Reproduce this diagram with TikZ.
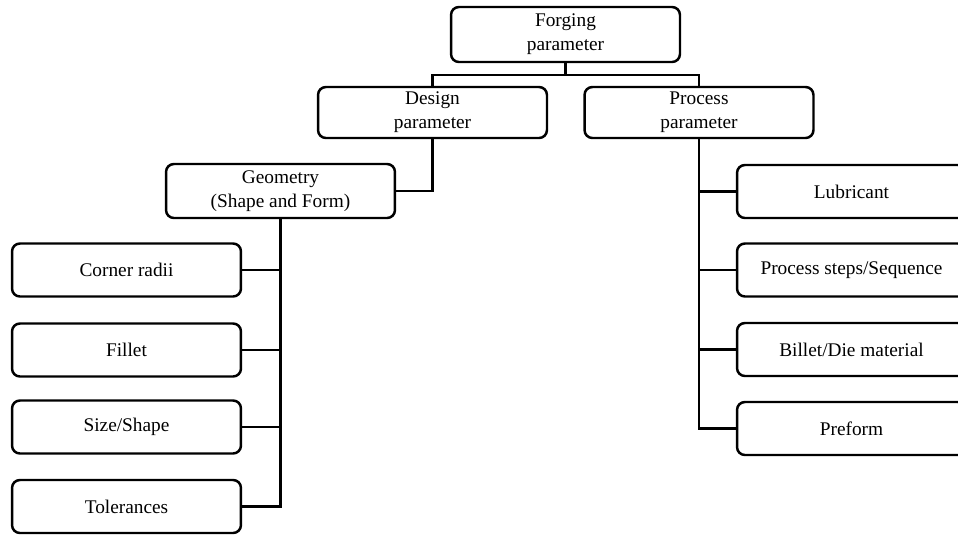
\documentclass[tikz,border=0pt]{standalone}
\usepackage{fontspec}
\setmainfont{Liberation Serif}
\usepackage{tikz}
\usetikzlibrary{positioning,calc}
\tikzset{>=latex}
\tikzset{param/.style={draw, line width=1.4pt, rounded corners=4.5pt, minimum width=4.58cm, minimum height=1.06cm, align=center, inner sep=1pt, font=\fontsize{11}{13.6}\selectfont}}
\tikzset{link/.style={line width=1.4pt}}

\begin{document}
\begin{tikzpicture}[x=0.02cm, y=-0.02cm]
    \clip (0,0) rectangle (958,535);
    % main levels
    \node [param, minimum height=1.1cm] (forging) at (565.5,34.5) {Forging\\parameter};
    \node [param, minimum height=1.02cm] (design) at (432.5,112.5) {Design\\parameter};
    \node [param, minimum height=1.02cm] (process) at (699,112.5) {Process\\parameter};
    \node [param, minimum height=1.08cm] (geometry) at (280.5,191) {Geometry\\(Shape and Form)};
    % design side
    \node [param] (radii) at (126.5,270) {Corner radii};
    \node [param] (fillet) at (126.5,350) {Fillet};
    \node [param] (size) at (126.5,427) {Size/Shape};
    \node [param] (tol) at (126.5,506.5) {Tolerances};
    % process side
    \node [param] (lub) at (851.5,191.5) {Lubricant};
    \node [param] (steps) at (851.5,270) {Process steps/Sequence};
    \node [param] (billet) at (851.5,349.5) {Billet/Die material};
    \node [param] (preform) at (851.5,428.5) {Preform};
    % connectors
    \draw [link] (forging.south) -- ++(0,12) coordinate (fbus);
    \draw [link] (design.north) |- (fbus) -| (process.north);
    \draw [link] (design.south) |- (geometry.east);
    \draw [link] (geometry.south) |- (tol.east);
    \foreach \n in {radii,fillet,size}
        \draw [link] (\n.east) -- (\n.east -| geometry.south);
    \draw [link] (process.south) |- (preform.west);
    \foreach \n in {lub,steps,billet}
        \draw [link] (\n.west) -- (\n.west -| process.south);
\end{tikzpicture}
\end{document}
